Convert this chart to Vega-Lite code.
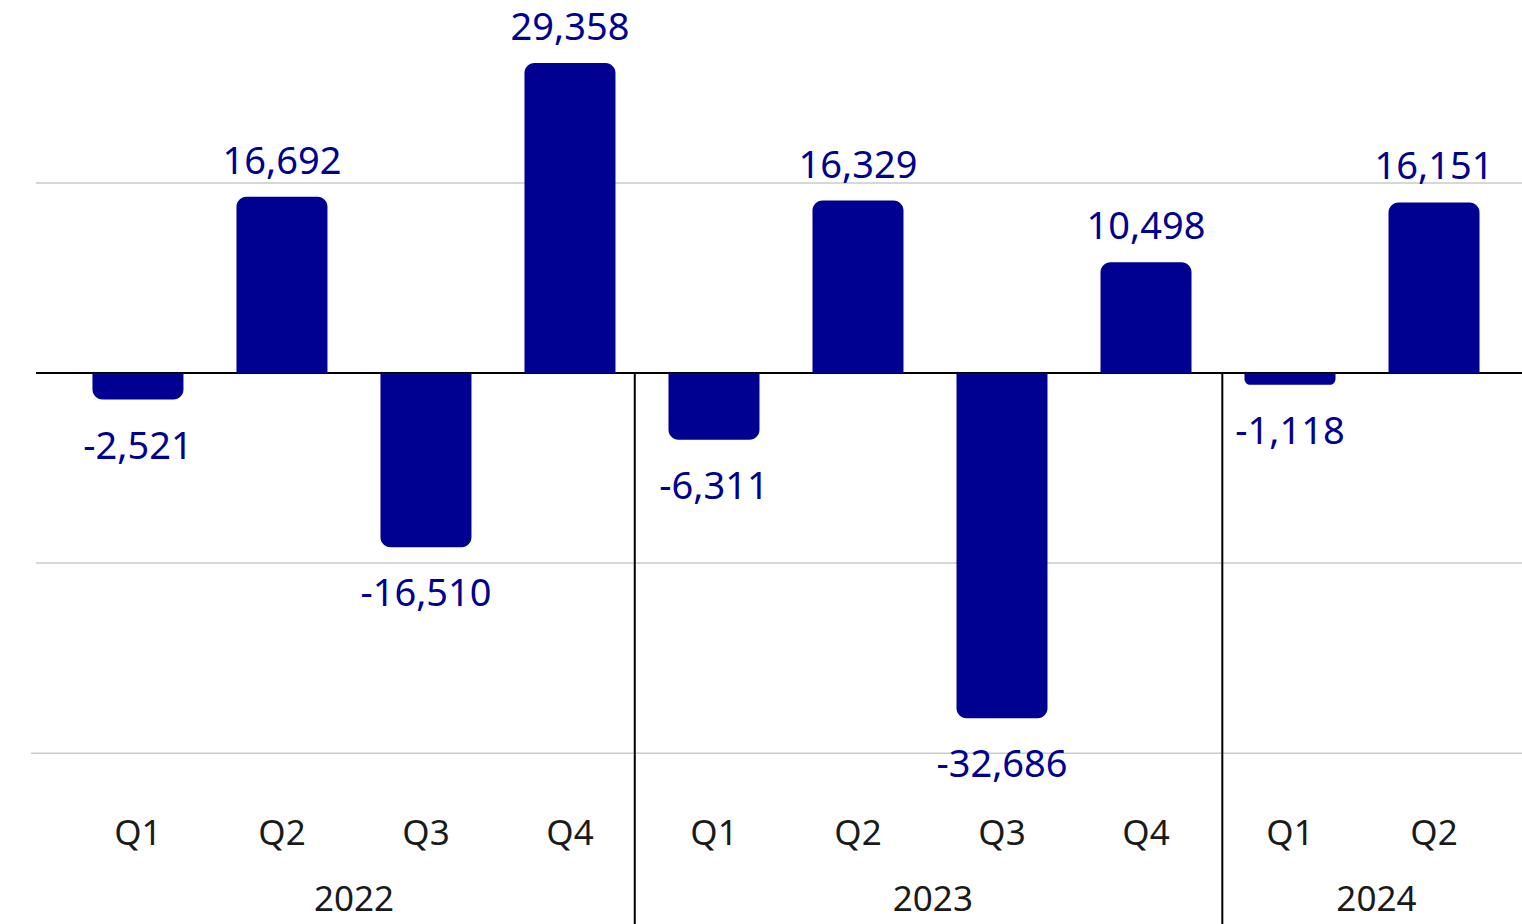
{
  "$schema": "https://vega.github.io/schema/vega-lite/v6.json",
  "width": 1522,
  "height": 924,
  "autosize": {"type": "none"},
  "padding": 0,
  "background": "white",
  "config": {"view": {"stroke": null}, "font": "Noto Sans"},
  "datasets": {
    "bars": [
      {"pos": 0, "year": "2022", "quarter": "Q1", "value": -2521, "label": "-2,521"},
      {"pos": 1, "year": "2022", "quarter": "Q2", "value": 16692, "label": "16,692"},
      {"pos": 2, "year": "2022", "quarter": "Q3", "value": -16510, "label": "-16,510"},
      {"pos": 3, "year": "2022", "quarter": "Q4", "value": 29358, "label": "29,358"},
      {"pos": 4, "year": "2023", "quarter": "Q1", "value": -6311, "label": "-6,311"},
      {"pos": 5, "year": "2023", "quarter": "Q2", "value": 16329, "label": "16,329"},
      {"pos": 6, "year": "2023", "quarter": "Q3", "value": -32686, "label": "-32,686"},
      {"pos": 7, "year": "2023", "quarter": "Q4", "value": 10498, "label": "10,498"},
      {"pos": 8, "year": "2024", "quarter": "Q1", "value": -1118, "label": "-1,118"},
      {"pos": 9, "year": "2024", "quarter": "Q2", "value": 16151, "label": "16,151"}
    ],
    "grid": [
      {"v": 18000, "x0": -0.708},
      {"v": -18000, "x0": -0.708},
      {"v": -36000, "x0": -0.743}
    ],
    "seps": [{"pos": 3.45}, {"pos": 7.53}],
    "years": [
      {"pos": 1.5, "year": "2022"},
      {"pos": 5.52, "year": "2023"},
      {"pos": 8.6, "year": "2024"}
    ]
  },
  "layer": [
    {
      "data": {"name": "grid"},
      "mark": {"type": "rule", "color": "#c5cdcd", "strokeWidth": 1.5},
      "encoding": {
        "x": {"field": "x0", "type": "quantitative", "axis": null, "scale": {"domain": [-0.958, 9.611], "nice": false, "zero": false, "padding": 0}},
        "x2": {"datum": 9.611},
        "y": {"field": "v", "type": "quantitative", "axis": null, "scale": {"domain": [-52178, 35322], "nice": false, "zero": false, "padding": 0}}
      }
    },
    {
      "data": {"values": [{"v": 0, "x0": -0.708}]},
      "mark": {"type": "rule", "color": "#000000", "strokeWidth": 2},
      "encoding": {
        "x": {"field": "x0", "type": "quantitative"},
        "x2": {"datum": 9.611},
        "y": {"field": "v", "type": "quantitative"}
      }
    },
    {
      "data": {"name": "seps"},
      "mark": {"type": "rule", "color": "#000000", "strokeWidth": 2},
      "encoding": {
        "x": {"field": "pos", "type": "quantitative"},
        "y": {"datum": 0, "type": "quantitative"},
        "y2": {"datum": -52178}
      }
    },
    {
      "data": {"name": "bars"},
      "transform": [{"filter": "datum.value > 0"}],
      "mark": {"type": "bar", "color": "#000091", "width": 91, "cornerRadiusTopLeft": 10, "cornerRadiusTopRight": 10},
      "encoding": {
        "x": {"field": "pos", "type": "quantitative"},
        "y": {"field": "value", "type": "quantitative"},
        "y2": {"datum": 0}
      }
    },
    {
      "data": {"name": "bars"},
      "transform": [{"filter": "datum.value < 0"}],
      "mark": {"type": "bar", "color": "#000091", "width": 91, "cornerRadiusBottomLeft": 10, "cornerRadiusBottomRight": 10},
      "encoding": {
        "x": {"field": "pos", "type": "quantitative"},
        "y": {"field": "value", "type": "quantitative"},
        "y2": {"datum": 0}
      }
    },
    {
      "data": {"name": "bars"},
      "transform": [{"filter": "datum.value > 0"}],
      "mark": {"type": "text", "color": "#000091", "fontSize": 38, "baseline": "middle", "align": "center", "dy": -34},
      "encoding": {
        "x": {"field": "pos", "type": "quantitative"},
        "y": {"field": "value", "type": "quantitative"},
        "text": {"field": "label"}
      }
    },
    {
      "data": {"name": "bars"},
      "transform": [{"filter": "datum.value < 0"}],
      "mark": {"type": "text", "color": "#000091", "fontSize": 38, "baseline": "middle", "align": "center", "dy": 48},
      "encoding": {
        "x": {"field": "pos", "type": "quantitative"},
        "y": {"field": "value", "type": "quantitative"},
        "text": {"field": "label"}
      }
    },
    {
      "data": {"name": "bars"},
      "mark": {"type": "text", "color": "#1a1a1a", "fontSize": 35, "baseline": "middle", "align": "center"},
      "encoding": {
        "x": {"field": "pos", "type": "quantitative"},
        "y": {"datum": -43655, "type": "quantitative"},
        "text": {"field": "quarter"}
      }
    },
    {
      "data": {"name": "years"},
      "mark": {"type": "text", "color": "#1a1a1a", "fontSize": 35, "baseline": "middle", "align": "center"},
      "encoding": {
        "x": {"field": "pos", "type": "quantitative"},
        "y": {"datum": -49905, "type": "quantitative"},
        "text": {"field": "year"}
      }
    }
  ]
}
